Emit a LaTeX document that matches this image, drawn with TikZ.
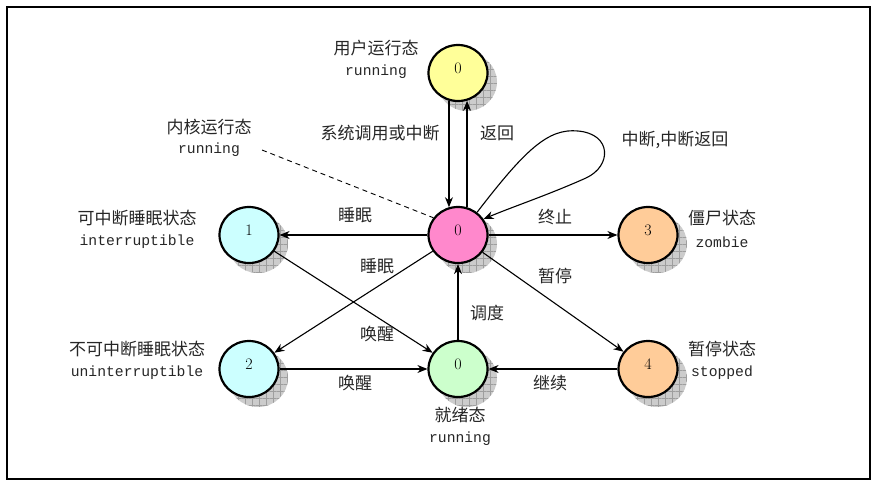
\documentclass[tikz,border=0pt]{standalone}
\usepackage{fontspec}
\newfontfamily\cjk{Noto Sans CJK SC}
\newfontfamily\mono{Liberation Mono}
\usetikzlibrary{shapes.geometric,arrows.meta,patterns.meta}
\definecolor{cyl}{HTML}{FFFF99}
\definecolor{cpk}{HTML}{FF88CC}
\definecolor{ccy}{HTML}{CCFFFF}
\definecolor{cgr}{HTML}{CCFFCC}
\definecolor{cor}{HTML}{FFCC99}
\begin{document}
\begin{tikzpicture}[x=1pt,y=-1pt,
  st/.style={draw=black, line width=2.2pt, ellipse, minimum width=59pt, minimum height=56pt, inner sep=0pt,
    label={[yshift=5pt,font=\fontsize{16}{16}\selectfont]center:#1}},
  shd/.style={fill=black!20, postaction={pattern={Hatch[angle=0,distance=7pt,line width=0.4pt]}, pattern color=black!38}},
  ed/.style={line width=1.1pt, -{Stealth[length=10pt,width=8pt]}},
  lab/.style={font=\cjk\fontsize{17}{17}\selectfont, inner sep=0pt, text=black!85},
  mn/.style={font=\mono\fontsize{14.7}{14.7}\selectfont, inner sep=0pt, text=black!85}
]
\useasboundingbox (0,0) rectangle (874,482);
\draw[line width=1.6pt] (7,7) rectangle (870,479);

% shadows
\foreach \px/\py in {458/73,458/235,249/235,648/235,249/369,458/369,648/369}
  \path[shd] (\px+9,\py+9) ellipse [x radius=30pt, y radius=29pt];

% nodes
\node[st=0, fill=cyl] (t) at (458,73) {};
\node[st=0, fill=cpk] (c) at (458,235) {};
\node[st=1, fill=ccy] (n1) at (249,235) {};
\node[st=3, fill=cor] (n3) at (648,235) {};
\node[st=2, fill=ccy] (n2) at (249,369) {};
\node[st=0, fill=cgr] (b) at (458,369) {};
\node[st=4, fill=cor] (n4) at (648,369) {};

% state labels
\node[lab] (l1a) at (376,48) {用户运行态};
\node[mn] (l1b) at (376,72) {running};
\node[lab] (l2a) at (209,127) {内核运行态};
\node[mn] (l2b) at (209,150) {running};
\node[lab] (l3a) at (137,218) {可中断睡眠状态};
\node[mn] (l3b) at (137,242) {interruptible};
\node[lab] (l4a) at (137,349) {不可中断睡眠状态};
\node[mn] (l4b) at (137,373) {uninterruptible};
\node[lab] (l5a) at (722,218) {僵尸状态};
\node[mn] (l5b) at (722,242) {zombie};
\node[lab] (l6a) at (722,349) {暂停状态};
\node[mn] (l6b) at (722,373) {stopped};
\node[lab] (l7a) at (460,415) {就绪态};
\node[mn] (l7b) at (460,439) {running};

% edges
\draw[ed] (t.-108) -- (c.108);
\draw[ed] (c.72) -- (t.-72);
\draw[ed] (c.west) -- (n1.east);
\draw[ed] (c.east) -- (n3.west);
\draw[ed] (c) -- (n2);
\draw[ed] (c) -- (n4);
\draw[ed] (n1) -- (b);
\draw[ed] (n2.east) -- (b.west);
\draw[ed] (n4.west) -- (b.east);
\draw[ed] (b.north) -- (c.south);
\draw[ed] (c.50) .. controls (525,150) and (548,128) .. (578,131)
  .. controls (612,134) and (612,166) .. (586,178)
  .. controls (548,195) and (512,207) .. (c.32);
\coordinate (kd) at (262,150);
\draw[line width=0.9pt, dash pattern=on 5pt off 4pt] (kd) -- (c.145);

% edge labels
\node[lab] (e1) at (380,133) {系统调用或中断};
\node[lab] (e2) at (497,133) {返回};
\node[lab] (e3) at (675,140) {中断,中断返回};
\node[lab] (e4) at (355,215) {睡眠};
\node[lab] (e5) at (555,217) {终止};
\node[lab] (e6) at (377,266) {睡眠};
\node[lab] (e7) at (555,276) {暂停};
\node[lab] (e8) at (487,313) {调度};
\node[lab] (e9) at (377,334) {唤醒};
\node[lab] (e10) at (355,383) {唤醒};
\node[lab] (e11) at (550,383) {继续};
\end{tikzpicture}
\end{document}
